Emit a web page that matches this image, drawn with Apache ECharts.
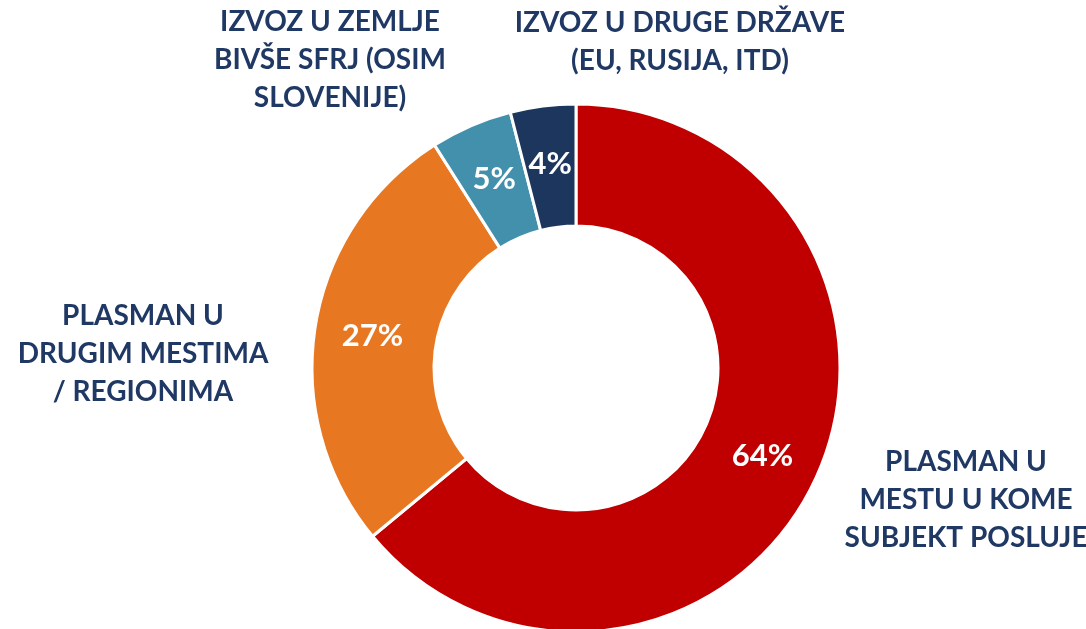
<!DOCTYPE html>
<html>
<head>
<meta charset="utf-8">
<style>
  html, body { margin: 0; padding: 0; background: #fff; }
  #main { width: 1086px; height: 629px; }
</style>
<script src="https://cdn.jsdelivr.net/npm/echarts@6/dist/echarts.min.js"></script>
</head>
<body>
<div id="main"></div>
<script>
// kategorije (redosled kao na slici, od vrha u smeru kazaljke)
const categories = [
  'PLASMAN U\nMESTU U KOME\nSUBJEKT POSLUJE',
  'PLASMAN U\nDRUGIM MESTIMA\n/ REGIONIMA',
  'IZVOZ U ZEMLJE\nBIVŠE SFRJ (OSIM\nSLOVENIJE)',
  'IZVOZ U DRUGE DRŽAVE\n(EU, RUSIJA, ITD)'
];
const shares = [64, 27, 5, 4];
const colors = ['#C00000', '#E87722', '#4390AD', '#1D365D'];

// pozicije spoljnih natpisa
const labelPos = [[966, 500], [143, 354], [330, 60], [680, 42]];

const font = 'Lato, "Open Sans", sans-serif';

const pieData = categories.map((name, i) => ({
  name: name,
  value: shares[i],
  itemStyle: { color: colors[i] }
}));

const chart = echarts.init(document.getElementById('main'));
chart.setOption({
  backgroundColor: '#fff',
  animation: false,
  series: [
    {
      type: 'pie',
      center: [576, 368],
      radius: [142, 264],
      startAngle: 90,
      clockwise: true,
      silent: true,
      itemStyle: { borderColor: '#fff', borderWidth: 3 },
      label: {
        show: true,
        position: 'inside',
        formatter: '{c}%',
        color: '#fff',
        fontFamily: font,
        fontWeight: 'bold',
        fontSize: 31
      },
      labelLine: { show: false },
      data: pieData
    },
    {
      type: 'pie',
      center: [576, 368],
      radius: [142, 264],
      startAngle: 90,
      clockwise: true,
      silent: true,
      itemStyle: { color: 'rgba(0,0,0,0)', borderWidth: 0 },
      label: {
        show: true,
        position: 'outside',
        formatter: '{b}',
        color: '#1F3864',
        fontFamily: font,
        fontWeight: 'bold',
        fontSize: 28,
        lineHeight: 38,
        align: 'center',
        overflow: 'none',
        width: 400
      },
      labelLine: { show: false },
      labelLayout: function (params) {
        const p = labelPos[params.dataIndex];
        return { x: p[0], y: p[1], align: 'center', verticalAlign: 'middle' };
      },
      data: categories.map((name, i) => ({ name: name, value: shares[i] }))
    }
  ]
});
</script>
</body>
</html>
